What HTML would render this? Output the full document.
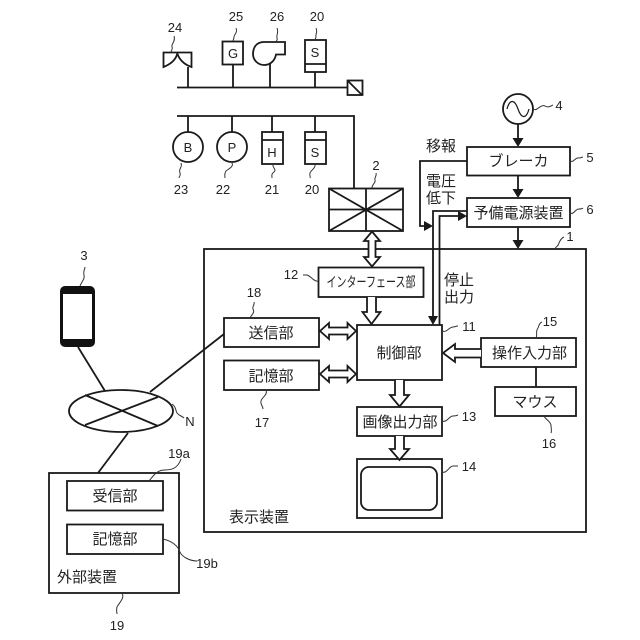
<!DOCTYPE html>
<html><head><meta charset="utf-8"><style>
html,body{margin:0;padding:0;background:#fff}
svg{display:block}
text{font-family:"Liberation Sans","Noto Sans CJK JP",sans-serif;fill:#222}
.j{font-size:15px;text-anchor:middle}
.n{font-size:13px;text-anchor:middle}
.l{font-size:15px}
.s{font-size:13px;text-anchor:middle}
</style></head><body>
<svg width="640" height="640" viewBox="0 0 640 640" xmlns="http://www.w3.org/2000/svg">
<rect width="640" height="640" fill="#fff"/>
<g fill="none" stroke="#1a1a1a" stroke-width="1.800">
<!-- top bus -->
<path d="M177 87.500H347"/>
<rect x="347.500" y="80.500" width="15" height="14.500"/>
<path d="M348 81L362 95"/>
<path d="M188 67V88M233 64V88M270 64V88M315 72V88"/>
<path d="M163.500 52.500H177.500Q176 62 163.500 67ZM177 52.500H191.500V67Q180 63 177 52.500Z" fill="#fff"/>
<rect x="222.500" y="41.500" width="20.500" height="23"/>
<path d="M285 42H264C256 42 253 48 253 54C253 61 259 65 264 65C271 65 275 60 276 54.500H285Z"/>
<rect x="305" y="40" width="21" height="32"/>
<path d="M305 64H326"/>
<!-- second bus -->
<path d="M177 116H354V188"/>
<path d="M188 116V132M232 116V132M272 116V132M315 116V132"/>
<circle cx="188" cy="147" r="15"/>
<circle cx="232" cy="147" r="15"/>
<rect x="262" y="132" width="21" height="32"/>
<path d="M262 140H283"/>
<rect x="305" y="132" width="21" height="32"/>
<path d="M305 140H326"/>
<!-- box 2 -->
<rect x="329" y="188.500" width="74" height="42.500"/>
<path d="M329 188.500L403 231M329 231L403 188.500M329 209.500H403M366 188.500V231"/>
<!-- AC -->
<circle cx="518" cy="109" r="15"/>
<path d="M507 109C510 98 515 100 518 109C521 118 526 120 529 109" stroke-width="1.200"/>
<path d="M518 124V140M518 175V191M518 227V242"/>
<rect x="467" y="147" width="103" height="28.500"/>
<rect x="467" y="198" width="103" height="29"/>
<!-- main box -->
<rect x="204" y="249" width="382" height="283"/>
<!-- signal lines -->
<path d="M467 161H420V226H426"/>
<path d="M467 211H433V317"/>
<path d="M461 216H439.500V325"/>
<!-- inner boxes -->
<rect x="318.500" y="267.500" width="105" height="29.500"/>
<rect x="224" y="318" width="95" height="29"/>
<rect x="224" y="360.500" width="95" height="29.500"/>
<rect x="357" y="325" width="85" height="55"/>
<rect x="357" y="407" width="85" height="29"/>
<rect x="357" y="459" width="85" height="59"/>
<rect x="361" y="467" width="76" height="43" rx="8"/>
<rect x="481" y="338" width="95" height="29"/>
<rect x="495" y="387" width="81" height="29"/>
<path d="M536 367V387"/>
<!-- hollow arrows -->
<path d="M372 231.500L380 241H375.500V257H380L372 266.500L364 257H368.500V241H364Z" fill="#fff"/>
<path d="M367 297V312H362.500L371.500 324L380.500 312H376V297" fill="#fff"/>
<path d="M320 331L329 323V327.500H347.500V323L356 331L347.500 339V334.500H329V339Z" fill="#fff"/>
<path d="M320 374L329 366V370.500H347.500V366L356 374L347.500 382V377.500H329V382Z" fill="#fff"/>
<path d="M395 380V395H390L399.500 406.500L409 395H404V380" fill="#fff"/>
<path d="M395 436V449H390L399.500 460L409 449H404V436" fill="#fff"/>
<path d="M481 349H455V344L443 353L455 362V357.500H481" fill="#fff"/>
<!-- network -->
<ellipse cx="121" cy="411" rx="52" ry="21"/>
<path d="M85 395L158 426M85 425L158 397"/>
<path d="M78 347L105 391M150 392L224 334M128 433L98 473"/>
<!-- external -->
<rect x="49" y="473" width="130" height="120"/>
<rect x="67" y="481" width="96" height="29.500"/>
<rect x="67" y="524.500" width="96" height="29.500"/>
</g>
<!-- phone -->
<rect x="61.500" y="287.500" width="32" height="58" rx="3.500" fill="#fff" stroke="#111" stroke-width="3"/>
<path d="M62 288H93V294H62ZM62 339H93V346H62Z" fill="#111"/>
<rect x="63.500" y="294" width="28" height="45" fill="#fff"/>
<!-- solid arrowheads -->
<g fill="#1a1a1a">
<path d="M512.500 138H523.500L518 147ZM512.500 189H523.500L518 198ZM512.500 240H523.500L518 249Z"/>
<path d="M424 221L433 226L424 231Z"/>
<path d="M428 316H438L433 325Z"/>
<path d="M458 211L467 216L458 221Z"/>
</g>
<!-- leaders -->
<g fill="none" stroke="#333" stroke-width="1">
<path d="M174 36C176 41 171 44 172 47C173 49 171 51 171 52"/>
<path d="M236 28C238 33 234 34 234 37C234 39 233 40 233 41"/>
<path d="M277 28C279 33 276 35 277 38C278 40 276 41 276 42"/>
<path d="M316 28C318 33 315 34 316 37C316 38 315 39 315 40"/>
<path d="M181 163C183 167 178 169 180 173C181 175 179 177 179 178"/>
<path d="M232 163C234 167 228 169 226 171C224 174 225 176 225 178"/>
<path d="M273 164C272 168 277 169 274 172C271 174 272 176 272 178"/>
<path d="M315 164C316 168 311 170 310 173C309 175 311 177 310 178"/>
<path d="M372 188C372 184 376 183 375 180C374 178 377 176 376 173"/>
<path d="M533 109C537 112 540 104 545 106C548 108 551 106 553 105"/>
<path d="M570 161C574 163 575 157 579 158C581 158 582 157 583 157"/>
<path d="M570 213C574 215 575 209 579 209C581 209 582 209 583 208"/>
<path d="M555 249C556 246 558 247 559 243C560 241 561 238 564 237"/>
<path d="M318 281C314 282 311 276 307 275C305 275 304 275 303 275"/>
<path d="M250 318C252 314 255 313 253 309C252 306 255 305 254 302"/>
<path d="M266 390C268 395 262 397 261 401C260 404 263 406 263 409"/>
<path d="M442 331C447 333 449 327 453 327C455 327 456 326 458 326"/>
<path d="M442 421C447 423 449 416 453 416C455 416 456 416 458 415"/>
<path d="M442 472C447 474 449 466 453 466C455 466 456 466 458 466"/>
<path d="M536 338C538 334 535 332 538 328C539 326 539 323 542 322"/>
<path d="M544 416C546 420 550 421 551 425C551 428 552 431 551 433"/>
<path d="M80 286C82 281 85 279 84 275C83 271 85 269 85 267"/>
<path d="M172 404C177 407 175 412 178 414C180 416 182 416 184 418"/>
<path d="M149 481C154 475 157 470 165 470C172 470 178 468 181 459"/>
<path d="M163 539C172 541 178 546 180 552C182 557 190 561 197 561"/>
<path d="M122 593C125 598 119 603 117 607C116 610 117 612 117 614"/>
</g>
<!-- numbers -->
<text class="n" x="175" y="32">24</text>
<text class="n" x="236" y="21">25</text>
<text class="n" x="277" y="21">26</text>
<text class="n" x="317" y="21">20</text>
<text class="n" x="181" y="194">23</text>
<text class="n" x="223" y="194">22</text>
<text class="n" x="272" y="194">21</text>
<text class="n" x="312" y="194">20</text>
<text class="n" x="376" y="170">2</text>
<text class="n" x="559" y="110">4</text>
<text class="n" x="590" y="162">5</text>
<text class="n" x="590" y="214">6</text>
<text class="n" x="570" y="241">1</text>
<text class="n" x="291" y="279">12</text>
<text class="n" x="254" y="297">18</text>
<text class="n" x="262" y="427">17</text>
<text class="n" x="469" y="331">11</text>
<text class="n" x="550" y="326">15</text>
<text class="n" x="469" y="421">13</text>
<text class="n" x="469" y="471">14</text>
<text class="n" x="549" y="448">16</text>
<text class="n" x="84" y="260">3</text>
<text class="n" x="190" y="426">N</text>
<text class="n" x="179" y="458">19a</text>
<text class="n" x="207" y="568">19b</text>
<text class="n" x="117" y="630">19</text>
<!-- symbol letters -->
<text class="s" x="233" y="58">G</text>
<text class="s" x="315" y="57">S</text>
<text class="s" x="188" y="152">B</text>
<text class="s" x="232" y="152">P</text>
<text class="s" x="272" y="157">H</text>
<text class="s" x="315" y="157">S</text>
<!-- Japanese labels -->
<text class="l" x="426" y="151">移報</text>
<text class="l" x="426" y="186">電圧</text>
<text class="l" x="426" y="203">低下</text>
<text class="l" x="444" y="285">停止</text>
<text class="l" x="444" y="302">出力</text>
<text class="j" x="518.500" y="166">ブレーカ</text>
<text class="j" x="518.500" y="218">予備電源装置</text>
<text x="371" y="287" style="font-size:14px;text-anchor:middle" textLength="89" lengthAdjust="spacingAndGlyphs">インターフェース部</text>
<text class="j" x="271" y="338">送信部</text>
<text class="j" x="271" y="381">記憶部</text>
<text class="j" x="399" y="358">制御部</text>
<text class="j" x="400" y="427">画像出力部</text>
<text class="j" x="529.500" y="358">操作入力部</text>
<text class="j" x="535" y="407">マウス</text>
<text class="j" x="115" y="501">受信部</text>
<text class="j" x="115" y="544">記憶部</text>
<text class="l" x="57" y="582">外部装置</text>
<text class="l" x="229" y="522">表示装置</text>
</svg>
</body></html>
